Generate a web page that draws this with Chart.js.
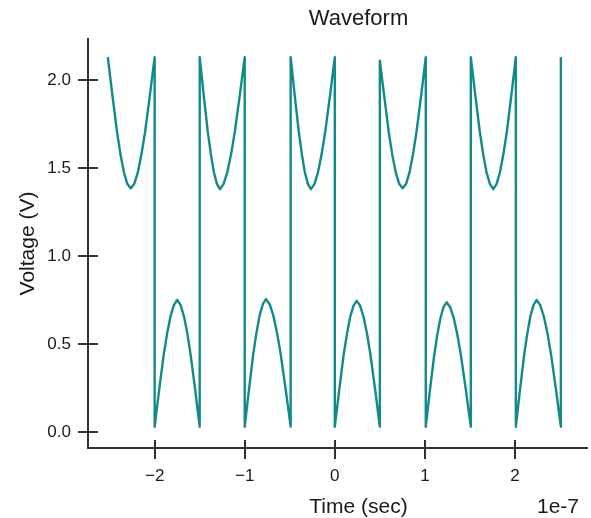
<!DOCTYPE html>
<html>
<head>
<meta charset="utf-8">
<title>Waveform</title>
<script src="https://cdn.jsdelivr.net/npm/chart.js@4/dist/chart.umd.min.js"></script>
<style>
  html, body { margin: 0; padding: 0; background: #ffffff; }
  #wrap { width: 591px; height: 518px; position: relative; }
</style>
</head>
<body>
<div id="wrap"><canvas id="waveChart"></canvas></div>
<script>
// Time samples, in units of 1e-7 sec (the axis shows the 1e-7 offset text)
const times = [
  -2.52, -2.469, -2.418, -2.380, -2.342, -2.304, -2.266, -2.226, -2.186, -2.146, -2.106, -2.053, -2.0,
  -2.0, -1.950, -1.900, -1.862, -1.824, -1.787, -1.749, -1.712, -1.674, -1.637, -1.600, -1.550, -1.5,
  -1.5, -1.455, -1.41, -1.376, -1.343, -1.309, -1.275, -1.234, -1.193, -1.151, -1.11, -1.055, -1.0,
  -1.0, -0.953, -0.906, -0.870, -0.835, -0.799, -0.764, -0.723, -0.682, -0.641, -0.600, -0.545, -0.49,
  -0.49, -0.445, -0.40, -0.366, -0.333, -0.299, -0.265, -0.225, -0.186, -0.146, -0.106, -0.053, 0.0,
  0.0, 0.049, 0.097, 0.134, 0.170, 0.207, 0.243, 0.282, 0.320, 0.359, 0.397, 0.449, 0.5,
  0.5, 0.551, 0.601, 0.639, 0.677, 0.715, 0.753, 0.792, 0.830, 0.869, 0.907, 0.959, 1.01,
  1.01, 1.056, 1.102, 1.137, 1.172, 1.206, 1.241, 1.281, 1.322, 1.362, 1.402, 1.456, 1.51,
  1.51, 1.560, 1.610, 1.647, 1.684, 1.722, 1.759, 1.797, 1.834, 1.872, 1.910, 1.960, 2.01,
  2.01, 2.056, 2.102, 2.137, 2.171, 2.206, 2.24, 2.281, 2.321, 2.362, 2.402, 2.456, 2.51,
  2.51
];

// Voltage at each sample (V)
const volts = [
  2.13, 1.913, 1.706, 1.579, 1.477, 1.41, 1.385, 1.41, 1.477, 1.579, 1.706, 1.913, 2.13,
  0.03, 0.239, 0.437, 0.559, 0.656, 0.721, 0.75, 0.721, 0.656, 0.559, 0.437, 0.239, 0.03,
  2.13, 1.913, 1.706, 1.579, 1.477, 1.41, 1.38, 1.41, 1.477, 1.579, 1.706, 1.913, 2.13,
  0.03, 0.241, 0.44, 0.563, 0.661, 0.726, 0.755, 0.726, 0.661, 0.563, 0.44, 0.241, 0.03,
  2.13, 1.913, 1.706, 1.579, 1.477, 1.41, 1.38, 1.41, 1.477, 1.579, 1.706, 1.913, 2.13,
  0.03, 0.238, 0.434, 0.555, 0.652, 0.717, 0.745, 0.717, 0.652, 0.555, 0.434, 0.238, 0.03,
  2.11, 1.898, 1.697, 1.573, 1.475, 1.41, 1.385, 1.41, 1.477, 1.579, 1.706, 1.913, 2.13,
  0.03, 0.236, 0.43, 0.55, 0.645, 0.709, 0.737, 0.709, 0.645, 0.55, 0.43, 0.236, 0.03,
  2.13, 1.913, 1.706, 1.579, 1.477, 1.41, 1.38, 1.41, 1.477, 1.579, 1.706, 1.913, 2.13,
  0.03, 0.239, 0.437, 0.559, 0.656, 0.721, 0.75, 0.721, 0.656, 0.559, 0.437, 0.239, 0.03,
  2.13
];

// Tick positions
const xTicks = [-2, -1, 0, 1, 2];
const yTicks = [0.0, 0.5, 1.0, 1.5, 2.0];

const FONT = '"Liberation Sans", Arial, Helvetica, sans-serif';
const AXIS_COLOR = '#333333';
const TEXT_COLOR = '#1a1a1a';
const LINE_COLOR = '#138a8a';

// Tick marks that cross the axis line, plus title / axis labels / offset text
const decorations = {
  id: 'decorations',
  afterDraw(chart) {
    const ctx = chart.ctx;
    const xs = chart.scales.x;
    const ys = chart.scales.y;
    ctx.save();
    ctx.strokeStyle = AXIS_COLOR;
    ctx.lineWidth = 2;
    ctx.lineCap = 'butt';
    ys.ticks.forEach(t => {
      const py = Math.round(ys.getPixelForValue(t.value));
      ctx.beginPath();
      ctx.moveTo(ys.right - 10, py);
      ctx.lineTo(ys.right + 10, py);
      ctx.stroke();
    });
    xs.ticks.forEach(t => {
      const px = Math.round(xs.getPixelForValue(t.value));
      ctx.beginPath();
      ctx.moveTo(px, xs.top - 8);
      ctx.lineTo(px, xs.top + 11);
      ctx.stroke();
    });

    ctx.fillStyle = TEXT_COLOR;
    ctx.textBaseline = 'alphabetic';
    ctx.textAlign = 'center';
    ctx.font = '22px ' + FONT;
    ctx.fillText('Waveform', 358.5, 25);

    ctx.font = '21px ' + FONT;
    ctx.fillText('Time (sec)', 358.5, 513);

    ctx.textAlign = 'right';
    ctx.fillText('1e-7', 579, 513);

    ctx.translate(34, (chart.chartArea.top + chart.chartArea.bottom) / 2);
    ctx.rotate(-Math.PI / 2);
    ctx.textAlign = 'center';
    ctx.fillText('Voltage (V)', 0, 0);
    ctx.restore();
  }
};

const points = times.map((t, i) => ({ x: t, y: volts[i] }));

new Chart(document.getElementById('waveChart').getContext('2d'), {
  type: 'scatter',
  data: {
    datasets: [{
      label: 'Voltage',
      data: points,
      showLine: true,
      borderColor: LINE_COLOR,
      borderWidth: 2.4,
      borderJoinStyle: 'round',
      pointRadius: 0,
      pointHoverRadius: 0,
      tension: 0
    }]
  },
  options: {
    responsive: true,
    maintainAspectRatio: false,
    animation: false,
    layout: { padding: { top: 39, right: 4, left: 0, bottom: 0 } },
    plugins: {
      legend: { display: false },
      title: { display: false },
      tooltip: { enabled: false }
    },
    scales: {
      x: {
        type: 'linear',
        min: -2.74,
        max: 2.80,
        afterBuildTicks: scale => { scale.ticks = xTicks.map(v => ({ value: v })); },
        afterFit: scale => { scale.height = 70; },
        grid: { display: false, drawTicks: false },
        border: { display: true, color: AXIS_COLOR, width: 2 },
        ticks: {
          color: TEXT_COLOR,
          font: { family: FONT, size: 17 },
          padding: 18,
          maxRotation: 0,
          callback: v => (v < 0 ? '\u2212' + Math.abs(v) : String(v))
        }
      },
      y: {
        type: 'linear',
        min: -0.091,
        max: 2.233,
        afterBuildTicks: scale => { scale.ticks = yTicks.map(v => ({ value: v })); },
        afterFit: scale => { scale.width = 88; },
        grid: { display: false, drawTicks: false },
        border: { display: true, color: AXIS_COLOR, width: 2 },
        ticks: {
          color: TEXT_COLOR,
          font: { family: FONT, size: 17 },
          padding: 17,
          callback: v => v.toFixed(1)
        }
      }
    }
  },
  plugins: [decorations]
});
</script>
</body>
</html>
